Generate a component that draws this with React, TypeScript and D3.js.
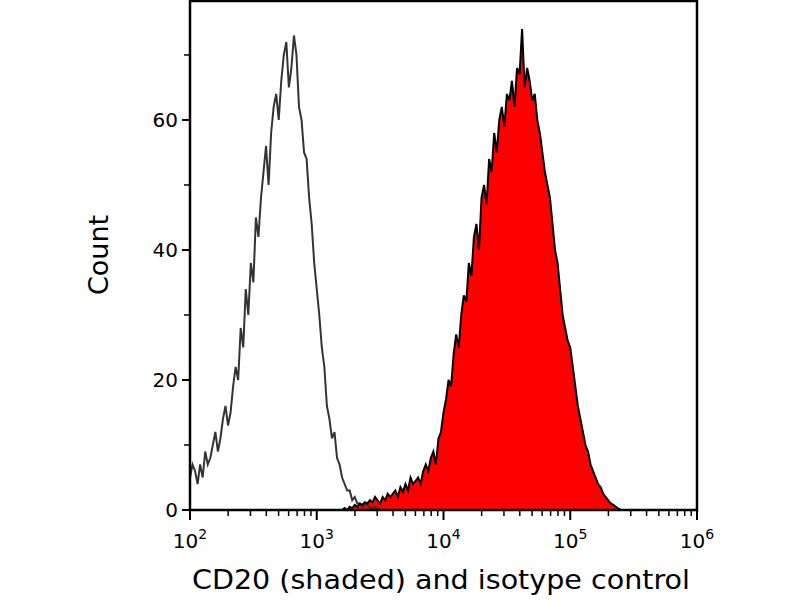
import React from "react";
import * as d3 from "d3";

const isoStart = 2.0;
const cdStart = 3.2;
const step = 0.02;
const isotypeCounts = [
  5,7,6,4,7,5,9,7,8,10,12,9,11,14,16,13,15,19,22,20,
  28,25,34,30,38,35,45,42,48,52,56,50,58,62,64,60,66,70,72,65,
  68,73,70,62,60,55,54,48,44,38,34,30,25,22,16,14,11,12,8,7,
  5,4,3,3,1.5,2,1,1,0.5,0.8,0.8,0.3,0.3,0.5,0.2,0,
];
const cd20Counts = [
  0,0.3,0,0.5,0.3,0.8,0.5,1,0.8,1.2,
  1,1.5,1.2,2,1.5,1,2,1.5,2.5,2,
  2.5,3,2,3.5,2.8,4,3,5,4,4.5,
  5,4,6,7,6,8,9,7,11,12,
  15,17,20,19,24,27,25,30,33,32,
  38,36,42,44,40,48,50,47,54,52,
  58,55,60,62,59,64,63,66,62,68,
  67,74,65,68,66,63,64,60,58,55,
  52,50,48,44,40,38,34,30,28,26,
  25,22,19,16,14,12,10,9,7,6,
  5,4,3.5,2.5,2,1.5,1,0.8,0.5,0.2,0,
];
const xExponents = [2, 3, 4, 5, 6];
const yLabels = [0, 20, 40, 60];
const yMinor = [10, 30, 50, 70];

export default function App() {
  const L = 190, R = 697, T = 1, B = 510;
  const x = d3.scaleLinear().domain([2, 6]).range([L, R]);
  const y = d3.scaleLinear().domain([0, 78.3]).range([B, T]);
  const iso = isotypeCounts.map((c, i) => [isoStart + i * step, c] as [number, number]);
  const cd = cd20Counts.map((c, i) => [cdStart + i * step, c] as [number, number]);
  const line = d3.line<[number, number]>().x(d => x(d[0])).y(d => y(d[1]));
  const area = d3.area<[number, number]>().x(d => x(d[0])).y0(B).y1(d => y(d[1]));
  const minor: number[] = [];
  for (let e = 2; e < 6; e++) for (let k = 2; k <= 9; k++) minor.push(e + Math.log10(k));
  const font = "DejaVu Sans, sans-serif";
  return (
    <svg width={800} height={600} style={{ position: "absolute", left: 0, top: 0 }} fontFamily={font}>
      <rect width={800} height={600} fill="#fff" />
      <path d={area(cd)!} fill="#ff0000" />
      <path d={line(iso)!} fill="none" stroke="#333" strokeWidth={2} />
      <path d={line(cd)!} fill="none" stroke="#000" strokeWidth={2} />
      <rect x={L} y={T} width={R - L} height={B - T} fill="none" stroke="#000" strokeWidth={2.5} />
      {xExponents.map(e => (
        <g key={e}>
          <line x1={x(e)} x2={x(e)} y1={B} y2={B + 10} stroke="#000" strokeWidth={2} />
          <text x={x(e)} y={548} textAnchor="middle" fontSize={20}>10<tspan dy={-9} fontSize={14}>{e}</tspan></text>
        </g>
      ))}
      {minor.map(m => (
        <line key={m} x1={x(m)} x2={x(m)} y1={B} y2={B + 6} stroke="#000" strokeWidth={1.5} />
      ))}
      {yLabels.map(v => (
        <g key={v}>
          <line x1={L - 8} x2={L} y1={y(v)} y2={y(v)} stroke="#000" strokeWidth={2} />
          <text x={L - 12} y={y(v) + 7} textAnchor="end" fontSize={20}>{v}</text>
        </g>
      ))}
      {yMinor.map(v => (
        <line key={v} x1={L - 6} x2={L} y1={y(v)} y2={y(v)} stroke="#000" strokeWidth={1.5} />
      ))}
      <text x={441} y={589} textAnchor="middle" fontSize={27} textLength={498} lengthAdjust="spacingAndGlyphs">CD20 (shaded) and isotype control</text>
      <text transform="translate(108,255) rotate(-90)" textAnchor="middle" fontSize={27}>Count</text>
    </svg>
  );
}
